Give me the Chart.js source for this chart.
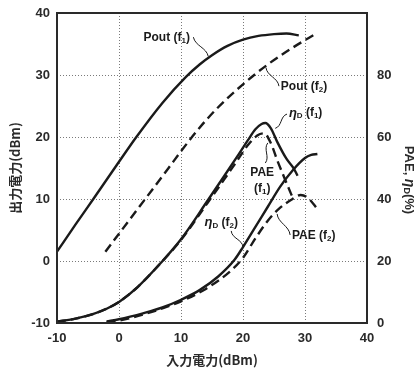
<!DOCTYPE html>
<html>
<head>
<meta charset="utf-8">
<script src="https://cdn.jsdelivr.net/npm/chart.js@4.4.1/dist/chart.umd.min.js"></script>
<style>
html, body { margin: 0; padding: 0; background: #fff; }
</style>
</head>
<body>
<canvas id="myChart" width="417" height="374"></canvas>
<script>
// input power (dBm) and values
const inPoutF1 = [-10, -7, -4, 0, 2.8, 7, 10.8, 13, 15, 17.5, 20, 22.5, 25, 27, 29];
const poutF1   = [1.5, 5.9, 10.2, 16, 20, 25.5, 29.7, 31.7, 33.2, 34.7, 35.7, 36.3, 36.6, 36.7, 36.4];

const inPoutF2 = [-2.2, 0, 4, 8, 10, 13, 16, 20, 24, 28, 32];
const poutF2   = [1.5, 4.4, 9.7, 15, 17.7, 21.5, 24.8, 28.5, 31.7, 34.4, 36.8];

const inEtaF1 = [-10, -7, -4, -2, 0, 3, 6.8, 10, 14.3, 17, 19, 20.8, 22, 23, 23.6, 24.5, 25.5, 27, 28.2, 28.8];
const etaF1   = [0.4, 1.4, 3.0, 4.6, 6.8, 11.6, 19.5, 27, 39.5, 47.5, 53.5, 59, 62.5, 64.2, 64.5, 62.8, 58.5, 53, 49.8, 47.5];

const inPaeF1 = [-10, -7, -4, -2, 0, 3, 6.8, 10, 14.3, 17, 19, 20.8, 22.3, 23.4, 24.5, 25.5, 26.6, 27.7, 28.2];
const paeF1   = [0.4, 1.4, 3.0, 4.6, 6.8, 11.6, 19.5, 26.8, 38.8, 46.4, 52.2, 57.4, 60.5, 61.2, 58, 52.6, 47.2, 41.9, 39.7];

const inEtaF2 = [-2, 0, 4, 7, 10, 13, 16, 18.6, 20, 22, 24, 26, 28, 30, 31, 32];
const etaF2   = [0.5, 1.2, 3.2, 5, 7.5, 10.6, 15, 20.3, 24.5, 31, 37.5, 44, 49.2, 53.2, 54.2, 54.5];

const inPaeF2 = [-2, 0, 4, 10, 14, 18, 20, 22, 24, 26, 28, 29.3, 30.5, 32];
const paeF2   = [0.3, 0.8, 2.8, 7, 11, 16.8, 21, 27.3, 33, 37.2, 40, 41.3, 40.3, 36.8];

const xTicks = [-10, 0, 10, 20, 30, 40];
const leftTicks = [-10, 0, 10, 20, 30, 40];
const rightTicks = [0, 20, 40, 60, 80];
const xGrid = [0, 10, 20, 30];
const yGrid = [0, 10, 20, 30];

// curve labels: parts = [text, size, italic, drop]
const labels = [
    { axis: 'y', x: 7.7, y: 36.0, align: 'center', parts: [['Pout (f', 12], ['1', 8, false, 3], [')', 12]] },
    { axis: 'y', x: 26.1, y: 28.1, align: 'left', parts: [['Pout (f', 12], ['2', 8, false, 3], [')', 12]] },
    { axis: 'y2', x: 27.4, y: 67.7, align: 'left', parts: [['η', 13, true], ['D', 8, false, 3], [' (f', 12], ['1', 8, false, 3], [')', 12]] },
    { axis: 'y2', x: 23.1, y: 48.4, align: 'center', parts: [['PAE', 12]] },
    { axis: 'y2', x: 23.1, y: 43.2, align: 'center', parts: [['(f', 12], ['1', 8, false, 3], [')', 12]] },
    { axis: 'y2', x: 16.5, y: 32.3, align: 'center', parts: [['η', 13, true], ['D', 8, false, 3], [' (f', 12], ['2', 8, false, 3], [')', 12]] },
    { axis: 'y2', x: 27.9, y: 28.1, align: 'left', parts: [['PAE (f', 12], ['2', 8, false, 3], [')', 12]] }
];

const leaders = [
    { axis: 'y', from: [12.0, 36.1], to: [14.4, 33.0] },
    { axis: 'y', from: [25.8, 28.2], to: [23.7, 31.2] },
    { axis: 'y2', from: [27.1, 67.4], to: [25.2, 62.8] },
    { axis: 'y2', from: [23.6, 51.6], to: [24.0, 58.1] },
    { axis: 'y2', from: [18.1, 29.7], to: [20.0, 24.5] },
    { axis: 'y2', from: [27.6, 28.4], to: [25.5, 35.2] }
];

const FONT = '"Liberation Sans", Arial, sans-serif';
const INK = '#1a1a1a';

function pts(xs, ys) {
    return xs.map((x, i) => ({ x: x, y: ys[i] }));
}

function series(xs, ys, axis, dashed) {
    return {
        data: pts(xs, ys),
        yAxisID: axis,
        borderColor: INK,
        borderWidth: 2.4,
        borderDash: dashed ? [9, 5] : [],
        pointRadius: 0,
        fill: false,
        cubicInterpolationMode: 'monotone'
    };
}

function drawParts(ctx, parts, x, y, align) {
    let total = 0;
    const widths = parts.map(p => {
        ctx.font = (p[2] ? 'italic ' : '') + 'bold ' + p[1] + 'px ' + FONT;
        const w = ctx.measureText(p[0]).width;
        total += w;
        return w;
    });
    let cx = align === 'center' ? x - total / 2 : x;
    parts.forEach((p, i) => {
        ctx.font = (p[2] ? 'italic ' : '') + 'bold ' + p[1] + 'px ' + FONT;
        ctx.fillText(p[0], cx, y + (p[3] || 0));
        cx += widths[i];
    });
}

// keep the plot box where the picture has it
function fitBox(size, dim) {
    return s => {
        s[dim] = size;
        s.paddingTop = 0;
        s.paddingBottom = 0;
        s.paddingLeft = 0;
        s.paddingRight = 0;
    };
}

const decor = {
    id: 'decor',
    beforeDatasetsDraw(chart) {
        const ctx = chart.ctx;
        const a = chart.chartArea;
        const xs = chart.scales.x, ys = chart.scales.y;
        ctx.save();
        ctx.strokeStyle = '#7a7a7a';
        ctx.lineWidth = 1;
        ctx.setLineDash([1, 2]);
        xGrid.forEach(v => {
            const p = Math.round(xs.getPixelForValue(v)) + 0.5;
            ctx.beginPath(); ctx.moveTo(p, a.top); ctx.lineTo(p, a.bottom); ctx.stroke();
        });
        yGrid.forEach(v => {
            const p = Math.round(ys.getPixelForValue(v)) + 0.5;
            ctx.beginPath(); ctx.moveTo(a.left, p); ctx.lineTo(a.right, p); ctx.stroke();
        });
        ctx.restore();
    },
    afterDraw(chart) {
        const ctx = chart.ctx;
        const a = chart.chartArea;
        const xs = chart.scales.x;
        ctx.save();
        // frame
        ctx.strokeStyle = '#2a2a2a';
        ctx.lineWidth = 2;
        ctx.strokeRect(a.left, a.top, a.right - a.left, a.bottom - a.top);

        // leaders
        ctx.lineWidth = 1;
        ctx.strokeStyle = INK;
        leaders.forEach(l => {
            const ys = chart.scales[l.axis];
            const x1 = xs.getPixelForValue(l.from[0]), y1 = ys.getPixelForValue(l.from[1]);
            const x2 = xs.getPixelForValue(l.to[0]), y2 = ys.getPixelForValue(l.to[1]);
            const dx = x2 - x1, dy = y2 - y1;
            const len = Math.hypot(dx, dy);
            const nx = -dy / len * 4, ny = dx / len * 4;
            ctx.beginPath();
            ctx.moveTo(x1, y1);
            ctx.bezierCurveTo(x1 + dx / 3 + nx, y1 + dy / 3 + ny, x1 + 2 * dx / 3 - nx, y1 + 2 * dy / 3 - ny, x2, y2);
            ctx.stroke();
        });

        // labels
        ctx.fillStyle = INK;
        ctx.textBaseline = 'middle';
        ctx.textAlign = 'left';
        labels.forEach(l => {
            const ys = chart.scales[l.axis];
            drawParts(ctx, l.parts, xs.getPixelForValue(l.x), ys.getPixelForValue(l.y), l.align);
        });

        // right axis title, reading downwards
        const r = chart.scales.y2;
        ctx.translate(r.right - 8, (a.top + a.bottom) / 2 + 12);
        ctx.rotate(Math.PI / 2);
        ctx.fillStyle = '#2a2a2a';
        drawParts(ctx, [['PAE, ', 13], ['η', 14, true], ['D', 9, false, 3], ['(%)', 13]], 0, 0, 'center');
        ctx.restore();
    }
};

const ctx = document.getElementById('myChart').getContext('2d');
new Chart(ctx, {
    type: 'line',
    data: {
        datasets: [
            series(inPoutF1, poutF1, 'y', false),
            series(inPoutF2, poutF2, 'y', true),
            series(inEtaF1, etaF1, 'y2', false),
            series(inPaeF1, paeF1, 'y2', true),
            series(inEtaF2, etaF2, 'y2', false),
            series(inPaeF2, paeF2, 'y2', true)
        ]
    },
    options: {
        responsive: false,
        animation: false,
        devicePixelRatio: 1,
        layout: { padding: { top: 13, left: 0, right: 0, bottom: 0 } },
        plugins: { legend: { display: false }, tooltip: { enabled: false } },
        scales: {
            x: {
                type: 'linear',
                min: -10,
                max: 40,
                afterBuildTicks: s => { s.ticks = xTicks.map(v => ({ value: v })); },
                afterFit: fitBox(51, 'height'),
                grid: { display: false, drawTicks: false },
                border: { display: false },
                ticks: { padding: 8, color: '#2a2a2a', font: { family: FONT, size: 13, weight: 'bold' } },
                title: {
                    display: true,
                    text: '入力電力(dBm)',
                    color: '#2a2a2a',
                    padding: { top: 0, bottom: 6 },
                    font: { family: '"Noto Sans CJK JP", ' + FONT, size: 13, weight: 'bold' }
                }
            },
            y: {
                position: 'left',
                min: -10,
                max: 40,
                afterBuildTicks: s => { s.ticks = leftTicks.map(v => ({ value: v })); },
                afterFit: fitBox(57, 'width'),
                grid: { display: false, drawTicks: false },
                border: { display: false },
                ticks: { padding: 7, color: '#2a2a2a', font: { family: FONT, size: 13, weight: 'bold' } },
                title: {
                    display: true,
                    text: '出力電力(dBm)',
                    color: '#2a2a2a',
                    padding: { top: 7, bottom: 0 },
                    font: { family: '"Noto Sans CJK JP", ' + FONT, size: 13, weight: 'bold' }
                }
            },
            y2: {
                position: 'right',
                min: 0,
                max: 100,
                afterBuildTicks: s => { s.ticks = rightTicks.map(v => ({ value: v })); },
                afterFit: fitBox(50, 'width'),
                grid: { display: false, drawTicks: false },
                border: { display: false },
                ticks: { padding: 10, color: '#2a2a2a', font: { family: FONT, size: 13, weight: 'bold' } }
            }
        }
    },
    plugins: [decor]
});
</script>
</body>
</html>
